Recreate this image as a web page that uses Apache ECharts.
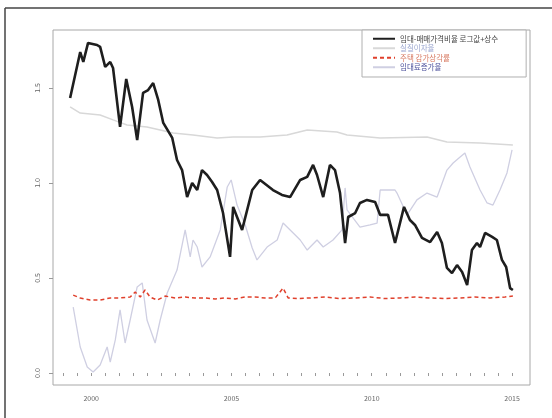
<!DOCTYPE html>
<html>
<head>
<meta charset="utf-8">
<script src="https://cdn.jsdelivr.net/npm/echarts@6/dist/echarts.min.js"></script>
<style>
  html, body { margin: 0; padding: 0; background: #fff; }
  #chart { width: 552px; height: 418px; }
</style>
</head>
<body>
<div id="chart"></div>
<script>
// Rent-to-price ratio (log + constant), by year
const ratioYears = [1999.25,1999.61,1999.72,1999.89,2000.21,2000.32,2000.50,2000.68,2000.78,2001.03,2001.25,2001.46,2001.64,2001.85,2002.03,2002.21,2002.39,2002.57,2002.89,2003.06,2003.24,2003.42,2003.60,2003.78,2003.95,2004.13,2004.31,2004.49,2004.70,2004.95,2005.06,2005.38,2005.74,2006.02,2006.48,2006.80,2007.09,2007.45,2007.70,2007.91,2008.05,2008.27,2008.51,2008.69,2008.87,2009.05,2009.16,2009.41,2009.58,2009.83,2010.12,2010.30,2010.58,2010.83,2011.15,2011.36,2011.54,2011.79,2012.08,2012.33,2012.50,2012.68,2012.86,2013.04,2013.22,2013.40,2013.57,2013.75,2013.86,2014.04,2014.29,2014.46,2014.64,2014.79,2014.93,2015.03];
const ratioValues = [1.447,1.689,1.637,1.737,1.726,1.716,1.611,1.637,1.605,1.295,1.547,1.400,1.226,1.474,1.489,1.526,1.437,1.316,1.237,1.121,1.068,0.926,1.000,0.963,1.068,1.042,1.005,0.963,0.842,0.611,0.874,0.753,0.963,1.016,0.963,0.937,0.926,1.016,1.032,1.095,1.042,0.926,1.095,1.068,0.947,0.684,0.821,0.842,0.895,0.911,0.900,0.832,0.832,0.684,0.874,0.805,0.779,0.711,0.689,0.742,0.684,0.553,0.526,0.568,0.532,0.463,0.647,0.684,0.663,0.737,0.716,0.700,0.595,0.558,0.447,0.437];

// Real interest rate
const rateYears = [1999.25,1999.61,2000.32,2000.78,2001.28,2001.99,2002.46,2002.92,2003.63,2004.49,2005.06,2006.02,2006.98,2007.70,2008.76,2009.12,2010.30,2011.97,2012.68,2013.86,2015.03];
const rateValues = [1.400,1.368,1.358,1.332,1.305,1.295,1.279,1.263,1.253,1.237,1.242,1.242,1.253,1.279,1.268,1.253,1.237,1.242,1.216,1.211,1.200];

// Housing depreciation rate
const deprYears = [1999.36,1999.61,1999.96,2000.32,2000.68,2001.03,2001.39,2001.57,2001.75,2001.92,2002.10,2002.35,2002.64,2002.99,2003.35,2003.70,2004.06,2004.42,2004.77,2005.13,2005.49,2005.84,2006.20,2006.56,2006.84,2007.02,2007.37,2007.80,2008.34,2008.87,2009.41,2009.94,2010.47,2011.01,2011.54,2012.08,2012.61,2013.15,2013.68,2014.21,2014.75,2015.03];
const deprValues = [0.410,0.395,0.384,0.384,0.395,0.395,0.400,0.426,0.400,0.437,0.400,0.384,0.405,0.395,0.400,0.395,0.395,0.390,0.395,0.390,0.400,0.400,0.395,0.395,0.447,0.395,0.392,0.395,0.400,0.392,0.395,0.400,0.392,0.395,0.400,0.395,0.392,0.395,0.400,0.395,0.400,0.405];

// Rent growth rate
const rentYears = [1999.36,1999.61,1999.86,2000.07,2000.32,2000.57,2000.68,2000.86,2001.03,2001.21,2001.39,2001.64,2001.82,2001.99,2002.28,2002.46,2002.71,2003.06,2003.35,2003.53,2003.63,2003.78,2003.95,2004.24,2004.60,2004.85,2004.99,2005.20,2005.49,2005.74,2005.91,2006.27,2006.63,2006.84,2007.20,2007.45,2007.70,2008.05,2008.27,2008.62,2008.94,2009.05,2009.12,2009.58,2009.94,2010.19,2010.30,2010.83,2010.90,2011.26,2011.61,2011.97,2012.33,2012.68,2012.90,2013.15,2013.32,2013.50,2013.86,2014.11,2014.32,2014.57,2014.82,2015.00];
const rentValues = [0.347,0.137,0.032,0.005,0.042,0.137,0.058,0.174,0.332,0.158,0.279,0.453,0.474,0.279,0.158,0.279,0.421,0.542,0.753,0.611,0.700,0.663,0.558,0.611,0.753,0.979,1.016,0.884,0.779,0.658,0.595,0.663,0.700,0.789,0.737,0.700,0.647,0.700,0.663,0.700,0.753,0.974,0.858,0.768,0.779,0.789,0.963,0.963,0.947,0.832,0.911,0.947,0.926,1.068,1.105,1.137,1.158,1.084,0.963,0.895,0.884,0.963,1.053,1.174];

const yTicks = [0, 0.5, 1.0, 1.5];
const xLabels = [2000, 2005, 2010, 2015];
const xTicks = [];
for (let y = 1999; y <= 2015; y += 0.5) xTicks.push(y);

const seriesNames = ['임대-매매가격비율 로그값+상수', '실질이자율', '주택 감가상각률', '임대료증가율'];

const pairs = (xs, ys) => xs.map((x, i) => [x, ys[i]]);

const chart = echarts.init(document.getElementById('chart'));
chart.setOption({
  animation: false,
  backgroundColor: '#fff',
  textStyle: { fontFamily: 'Noto Sans CJK KR, Noto Sans, sans-serif' },
  grid: {
    left: 53, top: 30, right: 22, bottom: 33,
    show: true, borderColor: '#a8a8a8', borderWidth: 1
  },
  legend: {
    orient: 'vertical',
    left: 362, top: 30,
    padding: [5, 28, 6, 10],
    itemGap: 2,
    itemWidth: 22, itemHeight: 8,
    itemStyle: { opacity: 0 },
    borderColor: '#b0b0b0', borderWidth: 1,
    backgroundColor: '#fff',
    textStyle: { fontSize: 7.5, fontFamily: 'Noto Sans CJK KR' },
    data: [
      { name: seriesNames[0], textStyle: { color: '#444' } },
      { name: seriesNames[1], textStyle: { color: '#9aa6d0' } },
      { name: seriesNames[2], textStyle: { color: '#d87a62' } },
      { name: seriesNames[3], textStyle: { color: '#4a4f9a' } }
    ]
  },
  xAxis: {
    type: 'value',
    min: 1998.64, max: 2015.64,
    axisLine: { show: false },
    axisTick: { show: true, customValues: xTicks, length: 3, lineStyle: { color: '#999' } },
    axisLabel: { customValues: xLabels, fontSize: 7, color: '#666', margin: 10, formatter: v => String(v) },
    splitLine: { show: false }
  },
  yAxis: {
    type: 'value',
    min: -0.063, max: 1.805,
    axisLine: { show: false },
    axisTick: { show: true, customValues: yTicks, length: 4, lineStyle: { color: '#999' } },
    axisLabel: { customValues: yTicks, fontSize: 7, color: '#666', rotate: 90, margin: 12, formatter: v => v.toFixed(1) },
    splitLine: { show: false }
  },
  graphic: [
    { type: 'line', shape: { x1: 5, y1: 8, x2: 552, y2: 8 }, style: { stroke: '#444', lineWidth: 1.5 } },
    { type: 'line', shape: { x1: 5, y1: 8, x2: 5, y2: 418 }, style: { stroke: '#444', lineWidth: 1.5 } }
  ],
  series: [
    {
      name: seriesNames[3], type: 'line', data: pairs(rentYears, rentValues),
      symbol: 'none', z: 1,
      lineStyle: { color: '#cfcfe2', width: 1.3 }, itemStyle: { color: '#cfcfe2' }
    },
    {
      name: seriesNames[1], type: 'line', data: pairs(rateYears, rateValues),
      symbol: 'none', z: 2,
      lineStyle: { color: '#d8d8d8', width: 1.5 }, itemStyle: { color: '#d8d8d8' }
    },
    {
      name: seriesNames[2], type: 'line', data: pairs(deprYears, deprValues),
      symbol: 'none', z: 3,
      lineStyle: { color: '#e0402c', width: 1.5, type: [4, 3] }, itemStyle: { color: '#e0402c' }
    },
    {
      name: seriesNames[0], type: 'line', data: pairs(ratioYears, ratioValues),
      symbol: 'none', z: 4,
      lineStyle: { color: '#1e1e1e', width: 2.6 }, itemStyle: { color: '#1e1e1e' }
    }
  ]
});
</script>
</body>
</html>
